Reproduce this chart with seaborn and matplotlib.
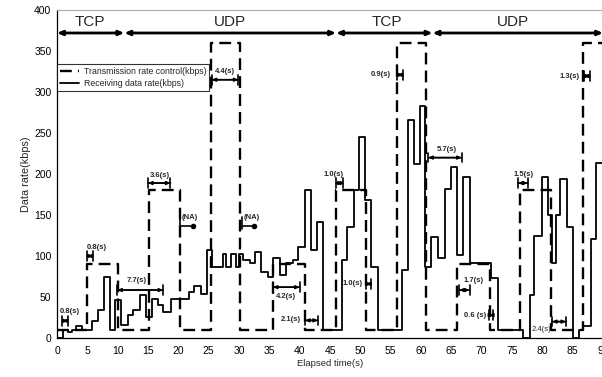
import matplotlib
matplotlib.use('Agg')
import matplotlib.pyplot as plt
import seaborn as sns
import pandas as pd

# receiving data rate (kbps), value holds until the next time stamp
rx_time = [0, 1.0, 1.8, 2.5, 3.2, 4.2, 5.8, 6.8, 7.8, 8.8, 9.6, 10.5, 11.7, 12.6,
           13.7, 14.7, 15.7, 16.6, 17.4, 18.8, 21.7, 22.6, 23.7, 24.8, 25.6, 27.3,
           27.8, 28.7, 29.5, 30.0, 30.7, 31.8, 32.6, 33.7, 34.8, 35.6, 36.7, 37.8,
           38.9, 39.7, 40.8, 41.8, 42.8, 43.9, 46.9, 47.8, 48.9, 49.8, 50.7, 51.8,
           52.9, 56.9, 57.9, 58.8, 59.8, 60.6, 61.7, 62.8, 63.9, 65.0, 65.9, 66.9,
           68.0, 71.6, 72.7, 76.8, 77.9, 78.7, 80.0, 80.9, 81.6, 82.2, 82.9, 84.0,
           85.0, 86.1, 86.7, 88.0, 88.8, 90]
rx_rate = [0, 10, 7, 10, 15, 10, 21, 34, 75, 10, 46, 16, 28, 34,
           53, 26, 48, 40, 32, 47, 56, 63, 54, 107, 87, 103,
           87, 103, 87, 103, 95, 91, 105, 81, 75, 97, 77, 91,
           95, 111, 180, 107, 141, 10, 95, 136, 180, 245, 168, 87,
           10, 83, 266, 212, 283, 87, 123, 97, 182, 208, 101, 196,
           91, 73, 10, 0, 53, 124, 196, 150, 91, 150, 194, 136,
           0, 10, 15, 121, 214, 214]

# transmission rate control (kbps)
ctl_time = [0, 5.0, 10.0, 15.1, 20.2, 25.3, 30.2, 35.6, 40.9, 46.0, 50.9,
            56.0, 60.9, 66.0, 71.3, 76.3, 81.5, 86.7, 90]
ctl_rate = [10, 90, 10, 180, 10, 360, 10, 90, 10, 180, 10,
            360, 10, 90, 10, 180, 10, 360, 360]

# protocol phases
proto_names = ['TCP', 'UDP', 'TCP', 'UDP']
proto_start = [0, 11.1, 46.0, 61.9]
proto_end = [11.1, 46.0, 61.9, 90]
proto_label_x = [5.4, 28.5, 54.3, 75.2]

# delay annotations
delay_labels = ['0.8(s)', '0.8(s)', '7.7(s)', '3.6(s)', '4.4(s)', '4.2(s)', '2.1(s)',
                '1.0(s)', '1.0(s)', '0.9(s)', '5.7(s)', '1.5(s)', '1.7(s)',
                '0.6 (s)', '2.4(s)', '1.3(s)']
delay_x0 = [0.9, 5.0, 9.95, 15.0, 25.5, 35.6, 40.9, 46.0, 50.9, 56.1, 61.2,
            76.0, 66.3, 71.2, 81.6, 86.8]
delay_x1 = [1.8, 5.9, 17.5, 18.7, 29.9, 40.0, 43.0, 47.1, 51.8, 57.0, 66.7,
            77.6, 68.0, 71.9, 83.9, 87.8]
delay_y = [21, 100, 58.5, 189, 315, 62, 21.5, 189, 66, 321, 220,
           189, 58.5, 28, 20, 319.5]
delay_tx = [2.1, 6.5, 13.1, 16.9, 27.7, 37.8, 38.5, 45.6, 48.8, 53.3, 64.2,
            76.9, 68.7, 68.9, 79.8, 84.5]
delay_ty = [32, 111, 70, 198, 325, 51, 22, 200, 67, 321, 230,
            200, 70.7, 28, 10.6, 319.5]

na_x0 = [20.3, 30.5]
na_x1 = [22.4, 32.5]
na_y = [136.6, 137]

rx = pd.DataFrame({'time': rx_time, 'rate': rx_rate})
ctl = pd.DataFrame({'time': ctl_time, 'rate': ctl_rate})

sns.set_style('white')
plt.rcParams['font.family'] = ['Liberation Sans', 'DejaVu Sans']

fig = plt.figure(figsize=(6.02, 3.77), dpi=100)
ax = fig.add_axes([0.0947, 0.1034, 0.907, 0.870])

sns.lineplot(data=ctl, x='time', y='rate', drawstyle='steps-post', estimator=None,
             sort=False, color='black', lw=1.7, linestyle=(0, (5, 2.6)),
             label='Transmission rate control(kbps)', ax=ax)
sns.lineplot(data=rx, x='time', y='rate', drawstyle='steps-post', estimator=None,
             sort=False, color='black', lw=1.3,
             label='Receiving data rate(kbps)', ax=ax)

# protocol arrows
for name, s, e, lx in zip(proto_names, proto_start, proto_end, proto_label_x):
    ax.annotate('', xy=(e, 372), xytext=(s, 372),
                arrowprops=dict(arrowstyle='<|-|>,head_length=0.3,head_width=0.13',
                                lw=2.0, color='black', shrinkA=0, shrinkB=0),
                annotation_clip=False)
    ax.text(lx, 385, name, ha='center', va='center', fontsize=11)

# delay bars
for lab, x0, x1, y, tx, ty in zip(delay_labels, delay_x0, delay_x1, delay_y,
                                  delay_tx, delay_ty):
    ax.annotate('', xy=(x1, y), xytext=(x0, y),
                arrowprops=dict(arrowstyle='|-|,widthA=0.35,widthB=0.35',
                                lw=1.2, color='black', shrinkA=0, shrinkB=0))
    ax.annotate('', xy=(x1, y), xytext=(x0, y),
                arrowprops=dict(arrowstyle='<|-|>,head_length=0.22,head_width=0.1',
                                lw=1.1, color='black', shrinkA=0, shrinkB=0))
    weight = 'normal' if lab == '2.4(s)' else 'bold'
    ax.text(tx, ty, lab, ha='center', va='center', fontsize=5.5, fontweight=weight)

for x0, x1, y in zip(na_x0, na_x1, na_y):
    ax.plot([x0, x1], [y, y], color='black', lw=1.2)
    ax.plot([x0, x0], [y - 4, y + 10], color='black', lw=1.2)
    ax.plot(x1, y, 'o', color='black', ms=3)
    ax.text(x0 + 0.2, y + 10, '(NA)', ha='left', va='center', fontsize=5.5,
            fontweight='bold')

ax.set_xlim(0, 90)
ax.set_ylim(0, 400)
ax.set_xticks(range(0, 91, 5))
ax.set_yticks(range(0, 401, 50))
ax.tick_params(direction='in', length=3, width=0.8, labelsize=7.5, pad=4,
               colors='black')
ax.tick_params(axis='x', pad=6)
ax.set_xlabel('Elapsed time(s)', fontsize=6.8, labelpad=2)
ax.set_ylabel('Data rate(kbps)', fontsize=7.8, labelpad=2)

for side in ['left', 'bottom']:
    ax.spines[side].set_color('black')
    ax.spines[side].set_linewidth(0.9)
ax.spines['top'].set_color('#aaaaaa')
ax.spines['top'].set_linewidth(0.8)
ax.spines['right'].set_visible(False)

leg = ax.legend(loc='upper left', bbox_to_anchor=(0, 0.835), borderaxespad=0,
                fontsize=6.3, frameon=True, fancybox=False, edgecolor='black',
                handlelength=2.2, borderpad=0.35, labelspacing=0.35,
                handletextpad=0.5)
leg.get_frame().set_linewidth(0.8)
leg.set_zorder(10)

plt.savefig('out.png', dpi=100)
plt.close()
